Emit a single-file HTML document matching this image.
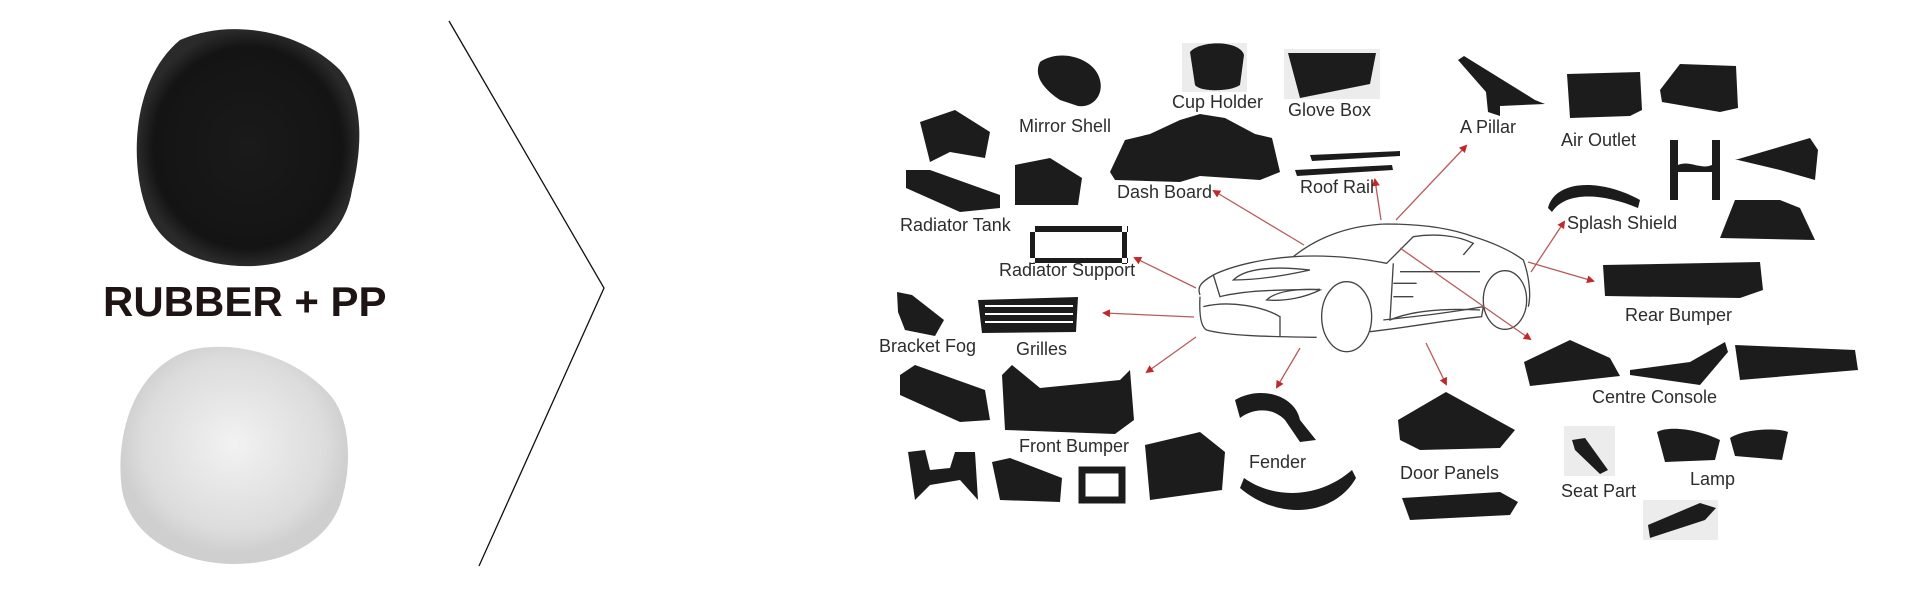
<!DOCTYPE html>
<html><head><meta charset="utf-8"><style>
html,body{margin:0;padding:0;background:#fff;width:1920px;height:600px;overflow:hidden}
svg{display:block}
.t{font-family:"Liberation Sans",sans-serif;font-size:18px;fill:#2d2d2d}
.p{fill:#1c1c1c}
.b{fill:#ececec}
</style></head><body>
<svg width="1920" height="600" viewBox="0 0 1920 600" xmlns="http://www.w3.org/2000/svg">
<defs>
<radialGradient id="blk" cx="50%" cy="50%" r="50%"><stop offset="0" stop-color="#1a1a1a"/><stop offset="0.85" stop-color="#141414"/><stop offset="1" stop-color="#2a2a2a"/></radialGradient>
<radialGradient id="wht" cx="50%" cy="45%" r="50%"><stop offset="0" stop-color="#f2f2f2"/><stop offset="0.8" stop-color="#dcdcdc"/><stop offset="1" stop-color="#cfcfcf"/></radialGradient>
<marker id="ar" markerWidth="8" markerHeight="8" refX="6" refY="4" orient="auto" markerUnits="userSpaceOnUse"><path d="M0,0 L8,4 L0,8 z" fill="#c0282a"/></marker>
</defs>
<path d="M180,40 C230,18 300,30 340,70 C365,100 362,150 352,190 C345,235 310,262 255,266 C200,268 158,248 145,205 C130,160 132,80 180,40 Z" fill="url(#blk)"/>
<text x="103" y="316" font-family="Liberation Sans,sans-serif" font-weight="bold" font-size="42" fill="#1f1414">RUBBER + PP</text>
<path d="M190,350 C240,338 300,360 330,395 C352,420 352,470 340,505 C325,545 280,565 230,564 C175,562 130,535 122,490 C115,440 130,370 190,350 Z" fill="url(#wht)"/>
<polyline points="449,21 604,288 479,566" fill="none" stroke="#111" stroke-width="1.3"/>

<path class="p" d="M1040,62 C1060,48 1095,58 1100,80 C1104,96 1092,108 1078,106 L1060,100 C1048,92 1032,78 1040,62Z"/>
<path class="b" d="M1182,43h65v49h-65z"/><path class="p" d="M1190,52 C1200,40 1240,40 1244,55 L1240,85 C1230,92 1200,92 1195,85Z"/>
<path class="b" d="M1284,49h96v50h-96z"/><path class="p" d="M1288,53 L1376,53 L1370,84 L1300,98 Z"/>
<path class="p" d="M1458,60 L1464,56 L1535,100 L1545,104 L1500,106 L1500,116 L1488,112 L1486,92 Z"/>
<path class="p" d="M1567,74 L1640,72 L1642,110 L1630,116 L1570,118 Z"/>
<path class="p" d="M1660,90 L1680,64 L1736,66 L1738,108 L1720,112 L1662,102 Z"/>
<path class="p" d="M920,122 L955,110 L990,132 L985,158 L950,152 L930,162 Z"/>
<path class="p" d="M1110,172 L1125,140 L1150,134 L1180,120 L1200,114 L1225,118 L1255,134 L1272,138 L1280,172 L1260,180 L1200,176 L1180,182 L1115,180 Z"/>
<path class="p" d="M1310,155 L1400,151 L1400,156 L1312,161 Z M1295,170 L1392,165 L1393,170 L1297,176 Z"/>
<path class="p" d="M906,170 L930,170 L1000,195 L1000,208 L960,212 L906,188 Z"/>
<path class="p" d="M1015,165 L1050,158 L1082,178 L1078,205 L1015,205 Z"/>
<path d="M1030,226h98v6h-98z M1030,226v38h5v-38z M1122,226v38h5v-38z M1030,258h98v5h-98z" fill="#1c1c1c"/>
<path class="p" d="M1548,208 C1555,180 1600,178 1640,200 L1638,208 C1600,192 1565,192 1552,212 Z"/>
<path class="p" d="M1670,140h8v60h-8z M1712,140h8v60h-8z M1678,165 C1690,160 1700,170 1712,165 L1712,172 L1678,172Z"/>
<path class="p" d="M1735,160 L1810,138 L1818,150 L1815,180 L1780,170 L1738,160 Z"/>
<path class="p" d="M1720,238 L1735,200 L1780,200 L1800,208 L1815,240 Z"/>
<path class="p" d="M1603,265 L1760,262 L1763,290 L1740,298 L1605,296 Z"/>
<path class="p" d="M897,292 L912,295 L944,320 L935,336 L905,330 L898,312 Z"/>
<path class="p" d="M978,300 L1078,297 L1076,332 L982,333 Z"/><path d="M985,306 h88 M985,314 h88 M985,322 h88" stroke="#fff" stroke-width="2"/>
<path class="p" d="M1002,375 L1012,365 L1040,388 L1120,380 L1130,370 L1134,420 L1115,434 L1005,430 Z"/>
<path class="p" d="M900,375 L915,365 L985,390 L990,420 L960,422 L900,395 Z"/>
<path class="p" d="M908,452 L925,450 L930,470 L950,468 L955,452 L975,452 L978,500 L960,480 L930,485 L915,500 Z"/>
<path class="p" d="M992,462 L1010,458 L1062,478 L1060,502 L1000,500 Z"/>
<path d="M1082,470 h40 v30 h-40z" fill="none" stroke="#1c1c1c" stroke-width="7"/>
<path class="p" d="M1145,445 L1200,432 L1225,452 L1222,490 L1150,500 Z"/>
<path class="p" d="M1235,400 C1260,385 1295,395 1300,420 L1316,440 L1300,442 L1285,420 C1270,405 1250,410 1240,418Z"/>
<path class="p" d="M1244,478 C1275,500 1320,498 1352,470 L1356,478 C1335,515 1280,522 1240,488Z"/>
<path class="p" d="M1398,420 L1446,392 L1515,430 L1500,448 L1420,450 L1400,440 Z"/>
<path class="p" d="M1402,498 L1500,492 L1518,502 L1510,515 L1410,520 Z"/>
<path class="p" d="M1524,362 L1570,340 L1610,358 L1620,376 L1530,386 Z"/>
<path class="p" d="M1630,370 L1690,362 L1725,342 L1728,352 L1700,385 L1630,375 Z"/>
<path class="p" d="M1735,345 L1855,350 L1858,370 L1740,380 Z"/>
<path class="b" d="M1564,426h51v50h-51z"/><path class="p" d="M1572,440 L1585,438 L1608,470 L1600,474 L1575,450Z"/>
<path class="p" d="M1657,432 C1670,425 1700,430 1720,440 L1715,460 L1665,462 Z M1730,438 C1745,428 1780,428 1788,432 L1782,460 L1735,456 Z"/>
<path class="b" d="M1643,500h75v40h-75z"/><path class="p" d="M1648,525 L1700,503 L1716,508 L1705,520 L1650,538 Z"/>

<g transform="translate(1180,200) scale(0.3333)" fill="none" stroke="#444" stroke-width="4">
<path d="M60,285 C50,260 65,245 100,225 C160,195 260,175 340,170 C420,105 520,75 620,72 C700,72 800,80 880,110 C930,125 990,150 1030,180 C1045,220 1055,280 1045,320"/>
<path d="M60,290 C58,330 60,380 80,390 C150,410 300,410 410,412"/>
<path d="M70,320 C150,300 250,320 300,350 L300,410"/>
<path d="M100,225 L120,290 C200,270 300,270 420,268"/>
<path d="M160,240 C200,200 300,200 390,210 C300,230 230,240 160,240Z"/>
<path d="M260,300 C290,270 370,265 420,270 C380,290 320,305 260,300Z"/>
<path d="M340,170 C420,165 520,170 620,190 L700,110 C760,100 830,105 880,130 L850,165"/>
<path d="M640,190 L630,360 C700,330 800,325 900,330"/>
<path d="M610,360 C700,350 800,340 910,320 L905,350 C800,360 700,380 570,395"/>
<ellipse cx="500" cy="350" rx="75" ry="105"/>
<ellipse cx="975" cy="300" rx="65" ry="88"/>
<path d="M660,215 L900,215 M640,250 L710,250 M640,290 L700,290"/>
</g>

<g stroke="#b85a5a" stroke-width="1.3" marker-end="url(#ar)">
<line x1="1304" y1="245" x2="1214" y2="191"/>
<line x1="1381" y1="220" x2="1375" y2="180"/>
<line x1="1396" y1="220" x2="1466" y2="146"/>
<line x1="1196" y1="288" x2="1135" y2="258"/>
<line x1="1194" y1="317" x2="1104" y2="313"/>
<line x1="1196" y1="337" x2="1147" y2="372"/>
<line x1="1300" y1="348" x2="1277" y2="387"/>
<line x1="1426" y1="343" x2="1446" y2="384"/>
<line x1="1400" y1="248" x2="1530" y2="339"/>
<line x1="1528" y1="262" x2="1593" y2="281"/>
<line x1="1531" y1="272" x2="1564" y2="222"/>
</g>

<g class="t">
<text x="1019" y="132">Mirror Shell</text>
<text x="1172" y="108">Cup Holder</text>
<text x="1288" y="116">Glove Box</text>
<text x="1460" y="133">A Pillar</text>
<text x="1561" y="146">Air Outlet</text>
<text x="1117" y="198">Dash Board</text>
<text x="1300" y="193">Roof Rail</text>
<text x="900" y="231">Radiator Tank</text>
<text x="1567" y="229">Splash Shield</text>
<text x="999" y="276">Radiator Support</text>
<text x="1625" y="321">Rear Bumper</text>
<text x="879" y="352">Bracket Fog</text>
<text x="1016" y="355">Grilles</text>
<text x="1592" y="403">Centre Console</text>
<text x="1019" y="452">Front Bumper</text>
<text x="1249" y="468">Fender</text>
<text x="1400" y="479">Door Panels</text>
<text x="1561" y="497">Seat Part</text>
<text x="1690" y="485">Lamp</text>
</g>
</svg>
</body></html>
